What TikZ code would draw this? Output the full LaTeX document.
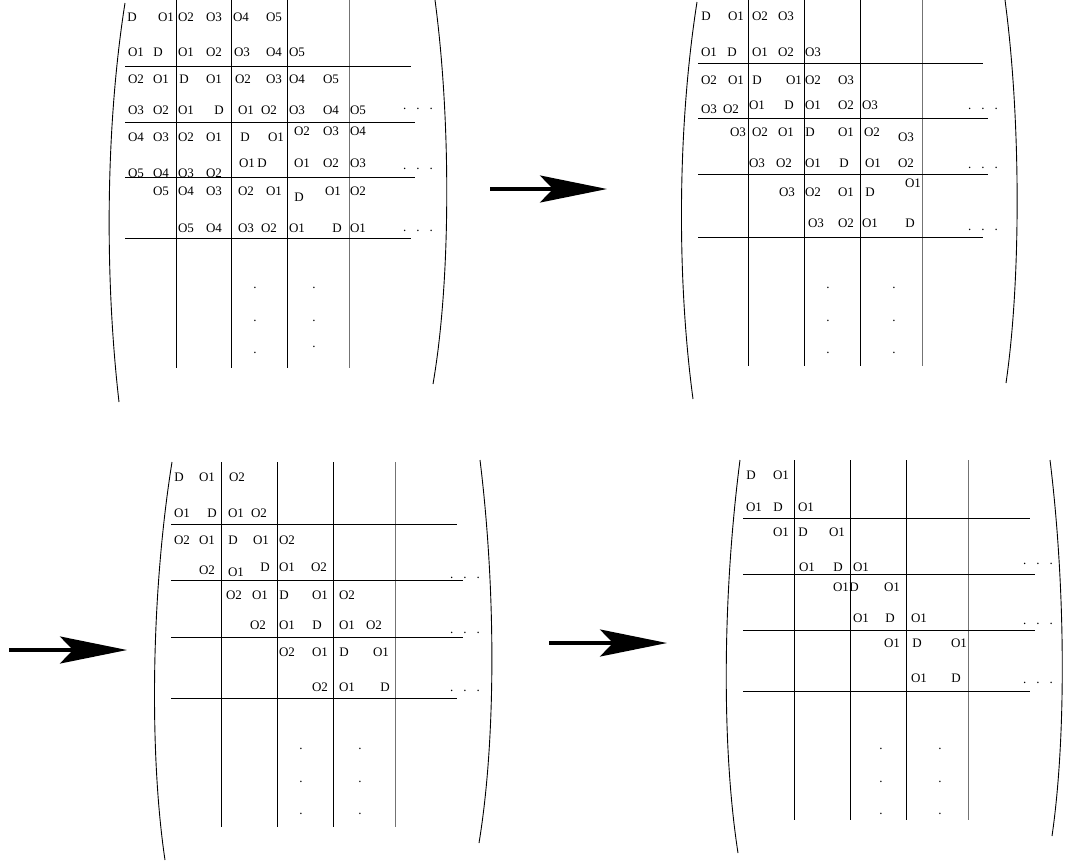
\documentclass[tikz,border=0pt]{standalone}
\usepackage{fontspec}
\setmainfont{Liberation Serif}
\usetikzlibrary{arrows.meta}
\newcommand\rowdots{.\hspace{10pt}.\hspace{10pt}.}

\begin{document}
\begin{tikzpicture}[x=1pt,y=-1pt,font=\fontsize{13}{15}\selectfont,
   cell/.style={inner sep=0pt},
   vdot/.style={inner sep=0pt,anchor=base},
   grid/.style={line width=0.9pt},
   lastcol/.style={line width=0.9pt,black!55},
   paren/.style={line width=0.9pt},
   band/.style={line width=3.5pt,-{Stealth[length=67pt,width=27pt,inset=13pt]}}]
   \useasboundingbox (0,0) rectangle (1065,863);
   % Matrix 1 (five bands)
   \draw [paren] (125,3) .. controls (105,130) and (105,280) .. (119,402);
   \draw [paren] (435,0) .. controls (451,120) and (451,280) .. (433,384);
   \foreach \x in {176,231,287} \draw [grid] (\x,0) -- (\x,368);
   \draw [lastcol] (349,0) -- (349,368);
   \draw [grid]
        (125,66)  -- (411,66)
        (125,122) -- (415,122)
        (125,177) -- (415,177)
        (125,238) -- (411,238)
   ;
   \foreach \x/\y/\t [count=\i] in {
      132/17/D, 166/17/O1, 186/17/O2, 214/17/O3, 241/17/O4, 274/17/O5,
      136/52/O1, 158/52/D, 186/52/O1, 214/52/O2, 242/52/O3, 274/52/O4, 297/52/O5,
      136/79/O2, 161/79/O1, 184/79/D, 214/79/O1, 243/79/O2, 274/79/O3, 297/79/O4, 331/79/O5,
      136/110/O3, 161/110/O2, 186/110/O1, 219/110/D, 246/110/O1, 269/110/O2, 297/110/O3, 331/110/O4, 358/110/O5,
      136/137/O4, 161/137/O3, 186/137/O2, 214/137/O1, 245/137/D, 276/137/O1, 302/131/O2, 331/131/O3, 358/131/O4,
      136/173/O5, 161/173/O4, 186/173/O3, 214/173/O2, 247/163/O1, 262/163/D, 302/163/O1, 331/163/O2, 358/163/O3,
      161/191/O5, 186/191/O4, 214/191/O3, 246/191/O2, 274/191/O1, 299/197/D, 333/191/O1, 358/191/O2,
      186/228/O5, 214/228/O4, 246/228/O3, 269/228/O2, 297/228/O1, 337/228/D, 358/228/O1}
      \node [cell] (ma\i) at (\x,\y) {\t};
   \foreach \y [count=\i] in {108,168,230}
      \node [vdot] (mad\i) at (418,\y+1) {\rowdots};
   \foreach \x/\y [count=\i] in {255/287, 255/320, 255/352, 314/287, 314/320, 314/346}
      \node [vdot] (mav\i) at (\x,\y+1) {.};
   % Matrix 2 (three bands)
   \draw [paren] (697,2) .. controls (677,130) and (677,280) .. (693,399);
   \draw [paren] (1005,0) .. controls (1021,120) and (1021,280) .. (1006,383);
   \foreach \x in {748,804,860} \draw [grid] (\x,0) -- (\x,366);
   \draw [lastcol] (922,0) -- (922,366);
   \draw [grid]
        (698,63)  -- (983,63)
        (698,118) -- (988,118)
        (698,174) -- (988,174)
        (698,237) -- (983,237)
   ;
   \foreach \x/\y/\t [count=\i] in {
      706/16/D, 736/16/O1, 760/16/O2, 786/16/O3,
      709/52/O1, 732/52/D, 760/52/O1, 786/52/O2, 813/52/O3,
      709/80/O2, 736/80/O1, 757/80/D, 794/80/O1, 813/80/O2, 846/80/O3,
      709/109/O3, 731/109/O2, 757/105/O1, 789/105/D, 813/105/O1, 846/105/O2, 870/105/O3,
      738/132/O3, 760/132/O2, 786/132/O1, 810/132/D, 846/132/O1, 872/132/O2, 906/137/O3,
      757/163/O3, 784/163/O2, 813/163/O1, 844/163/D, 873/163/O1, 906/163/O2,
      787/192/O3, 813/192/O2, 846/192/O1, 870/192/D, 913/183/O1,
      816/223/O3, 846/223/O2, 870/223/O1, 910/223/D}
      \node [cell] (mb\i) at (\x,\y) {\t};
   \foreach \y [count=\i] in {108,167,229}
      \node [vdot] (mbd\i) at (983,\y+1) {\rowdots};
   \foreach \x/\y [count=\i] in {828/287, 828/320, 828/352, 894/287, 894/320, 894/352}
      \node [vdot] (mbv\i) at (\x,\y+1) {.};
   % Matrix 3 (two bands)
   \draw [paren] (172,462) .. controls (150,600) and (150,760) .. (165,860);
   \draw [paren] (480,460) .. controls (496,590) and (496,740) .. (479,843);
   \foreach \x in {221,277,333} \draw [grid] (\x,462) -- (\x,827);
   \draw [lastcol] (395,462) -- (395,827);
   \draw [grid]
        (171,524) -- (457,524)
        (171,580) -- (463,580)
        (171,637) -- (463,637)
        (171,698) -- (457,698)
   ;
   \foreach \x/\y/\t [count=\i] in {
      179/477/D, 207/477/O1, 237/477/O2,
      182/513/O1, 212/513/D, 236/513/O1, 259/513/O2,
      182/540/O2, 207/540/O1, 233/540/D, 261/540/O1, 287/540/O2,
      207/570/O2, 236/572/O1, 265/567/D, 287/567/O1, 319/567/O2,
      234/595/O2, 260/595/O1, 284/595/D, 320/595/O1, 347/595/O2,
      258/625/O2, 287/625/O1, 317/625/D, 347/625/O1, 374/625/O2,
      287/652/O2, 320/652/O1, 344/652/D, 381/652/O1,
      320/687/O2, 347/687/O1, 385/687/D}
      \node [cell] (mc\i) at (\x,\y) {\t};
   \foreach \y [count=\i] in {577,632,690}
      \node [vdot] (mcd\i) at (465,\y+1) {\rowdots};
   \foreach \x/\y [count=\i] in {301/748, 301/781, 301/813, 360/748, 360/781, 360/813}
      \node [vdot] (mcv\i) at (\x,\y+1) {.};
   % Matrix 4 (one band)
   \draw [paren] (740,460) .. controls (722,600) and (722,750) .. (738,853);
   \draw [paren] (1050,460) .. controls (1066,590) and (1066,740) .. (1052,836);
   \foreach \x in {794,850,906} \draw [grid] (\x,460) -- (\x,820);
   \draw [lastcol] (968,460) -- (968,820);
   \draw [grid]
        (743,518) -- (1030,518)
        (743,574) -- (1035,574)
        (743,630) -- (1035,630)
        (743,691) -- (1030,691)
   ;
   \foreach \x/\y/\t [count=\i] in {
      751/475/D, 781/475/O1,
      754/507/O1, 778/507/D, 806/507/O1,
      781/532/O1, 803/532/D, 837/532/O1,
      807/567/O1, 838/567/D, 861/567/O1,
      841/587/O1, 854/587/D, 892/587/O1,
      861/618/O1, 890/618/D, 919/618/O1,
      892/643/O1, 917/643/D, 959/643/O1,
      919/678/O1, 956/678/D}
      \node [cell] (md\i) at (\x,\y) {\t};
   \foreach \y [count=\i] in {563,623,682}
      \node [vdot] (mdd\i) at (1038,\y+1) {\rowdots};
   \foreach \x/\y [count=\i] in {881/748, 881/781, 881/813, 940/748, 940/781, 940/813}
      \node [vdot] (mdv\i) at (\x,\y+1) {.};
   % Arrows between the steps
   \coordinate (from1) at (490,189);
   \coordinate (to1)   at (607,189);
   \coordinate (from2) at (9,650);
   \coordinate (to2)   at (127,650);
   \coordinate (from3) at (549,643);
   \coordinate (to3)   at (667,643);
   \draw [band] (from1) -- (to1);
   \draw [band] (from2) -- (to2);
   \draw [band] (from3) -- (to3);
\end{tikzpicture}
\end{document}
